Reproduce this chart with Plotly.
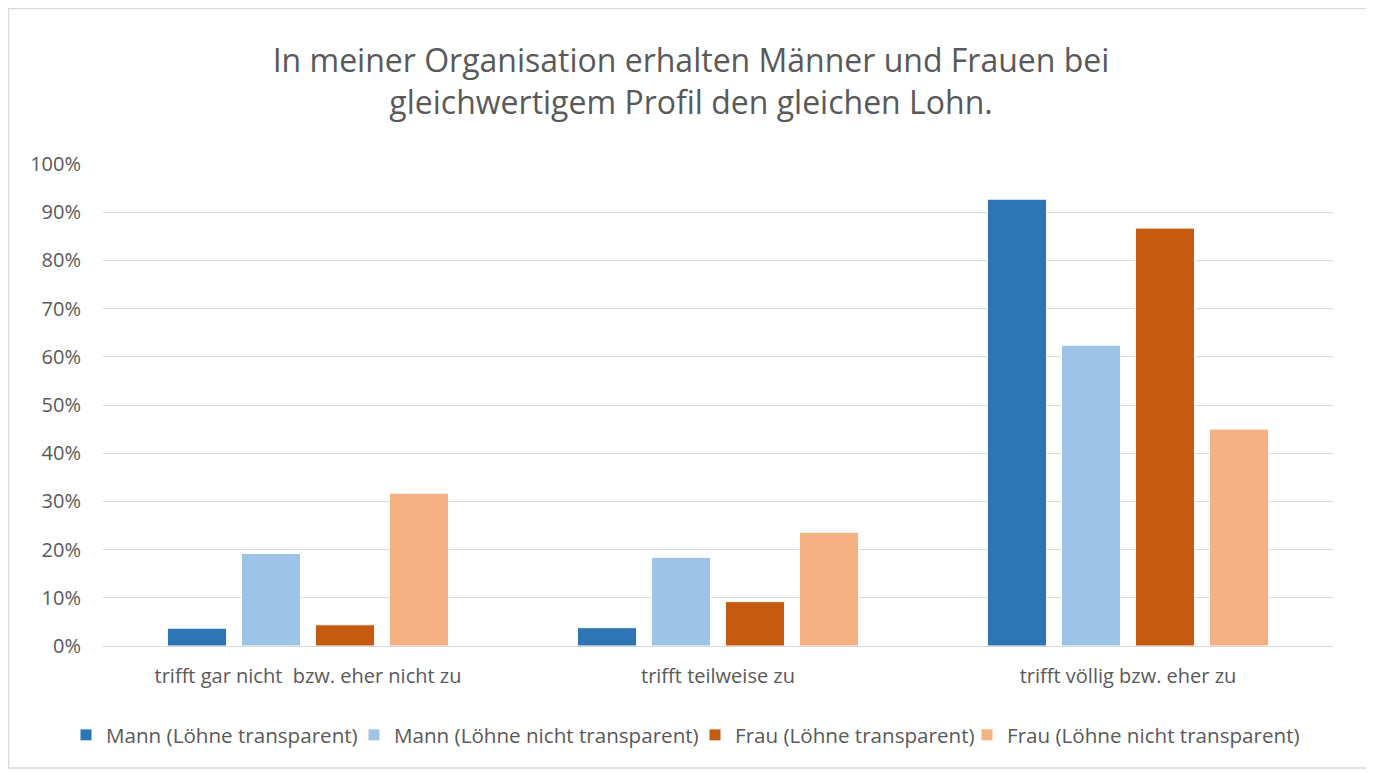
import plotly.graph_objects as go

categories = ["trifft gar nicht  bzw. eher nicht zu", "trifft teilweise zu", "trifft völlig bzw. eher zu"]
series_names = ["Mann (Löhne transparent)", "Mann (Löhne nicht transparent)",
                "Frau (Löhne transparent)", "Frau (Löhne nicht transparent)"]
mann_transparent = [0.037, 0.038, 0.927]
mann_nicht_transparent = [0.192, 0.184, 0.624]
frau_transparent = [0.044, 0.092, 0.867]
frau_nicht_transparent = [0.317, 0.236, 0.450]
colors = ["#2E75B6", "#9DC3E6", "#C55A11", "#F4B183"]
y_ticks = [0, 0.1, 0.2, 0.3, 0.4, 0.5, 0.6, 0.7, 0.8, 0.9, 1.0]

FONT = "Open Sans"
TXT = "#595959"

OFF = 8  # page body margin
W, H = 1374 - OFF, 774 - OFF
L, R, T, B = 103 - OFF, 41, 164 - OFF, 128
pw, ph = W - L - R, H - T - B

# page x where each legend entry's text starts (reference layout)
legend_text_x = [106, 394, 735, 1007]
legend_ids = ["legend", "legend2", "legend3", "legend4"]


def py(page_y):
    """page y pixel -> paper fraction"""
    return (H - B - (page_y - OFF)) / ph


def px(page_x):
    return (page_x - OFF - L) / pw


fig = go.Figure()
for name, vals, col, lid in zip(series_names,
                                [mann_transparent, mann_nicht_transparent, frau_transparent, frau_nicht_transparent],
                                colors, legend_ids):
    fig.add_trace(go.Bar(x=categories, y=vals, name=name, legend=lid,
                         marker=dict(color=col, line=dict(color="white", width=1))))

legend_layouts = {}
for lid, tx in zip(legend_ids, legend_text_x):
    legend_layouts[lid] = dict(
        orientation="h", xref="container", yref="container",
        x=(tx - 40 - OFF) / W, xanchor="left",
        y=(774 - 735) / H, yanchor="middle",
        font=dict(family=FONT, size=20.6, color=TXT), itemwidth=30,
        bgcolor="rgba(0,0,0,0)", borderwidth=0,
    )

fig.update_layout(
    width=W, height=H,
    margin=dict(l=L, r=R, t=T, b=B, autoexpand=False),
    paper_bgcolor="white", plot_bgcolor="white",
    barmode="group", bargap=0.278, bargroupgap=0.2,
    font=dict(family=FONT, color=TXT, size=20),
    title=dict(text="In meiner Organisation erhalten Männer und Frauen bei<br>gleichwertigem Profil den gleichen Lohn.",
               x=0.5, xanchor="center", y=1 - (72 - OFF) / H, yanchor="middle",
               font=dict(family=FONT, size=32, color=TXT)),
    showlegend=True,
    **legend_layouts,
)
fig.update_yaxes(range=[0, 1.0], tickvals=y_ticks, tickformat=".0%", showgrid=True, gridcolor="#D9D9D9",
                 gridwidth=1, zeroline=False, showline=False, ticks="", ticklabelstandoff=21,
                 tickfont=dict(family=FONT, size=20, color=TXT))
fig.update_xaxes(showline=True, linecolor="#D9D9D9", linewidth=1, ticks="", ticklabelstandoff=12,
                 tickfont=dict(family=FONT, size=20, color=TXT))

fig.add_shape(type="rect", xref="paper", yref="paper",
              x0=px(8.5), x1=px(1368), y0=py(768), y1=py(8.5),
              line=dict(color="#D9D9D9", width=1.5), fillcolor="rgba(0,0,0,0)", layer="below")

fig.write_html("out.html")
